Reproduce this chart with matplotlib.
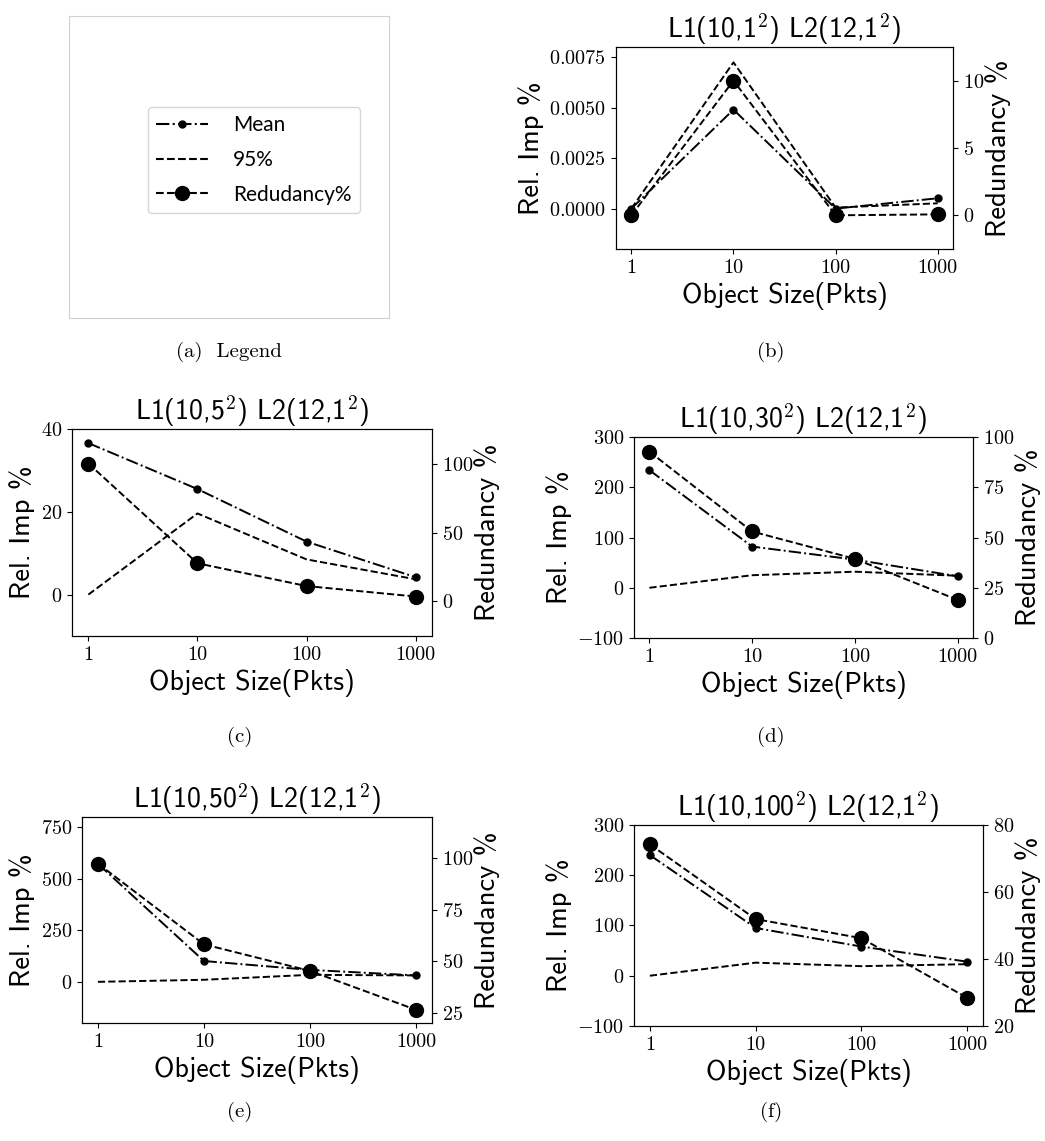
import matplotlib
matplotlib.use('Agg')
import matplotlib.pyplot as plt
from matplotlib.lines import Line2D
from matplotlib.ticker import NullLocator

plt.rcParams['font.family'] = 'cmr10'
plt.rcParams['mathtext.fontset'] = 'cm'
plt.rcParams['axes.formatter.use_mathtext'] = True
plt.rcParams['axes.unicode_minus'] = True

sizes = [1, 10, 100, 1000]
size_labels = ['1', '10', '100', '1000']

titles = [r'L1(10,1$^2$) L2(12,1$^2$)',
          r'L1(10,5$^2$) L2(12,1$^2$)',
          r'L1(10,30$^2$) L2(12,1$^2$)',
          r'L1(10,50$^2$) L2(12,1$^2$)',
          r'L1(10,100$^2$) L2(12,1$^2$)']
captions = ['(b)', '(c)', '(d)', '(e)', '(f)']

# relative improvement, mean
mean_b = [0.0, 0.0049, 0.0, 0.00051]
mean_c = [36.6, 25.5, 12.8, 4.2]
mean_d = [234, 82, 56, 23]
mean_e = [573, 101, 58, 31]
mean_f = [240, 95, 58, 28]

# relative improvement, 95%
p95_b = [0.0, 0.00724, 0.00005, 0.00026]
p95_c = [0.0, 19.6, 8.5, 3.7]
p95_d = [0, 25, 32, 24]
p95_e = [0, 10, 34, 31]
p95_f = [0, 26, 19, 23]

# redundancy %
red_b = [0.0, 10.0, 0.0, 0.07]
red_c = [100, 27.7, 11.2, 3.6]
red_d = [92.7, 53, 39.4, 19]
red_e = [97.4, 58.2, 45.3, 26.4]
red_f = [74.2, 51.9, 46.2, 28.4]

means = [mean_b, mean_c, mean_d, mean_e, mean_f]
p95s = [p95_b, p95_c, p95_d, p95_e, p95_f]
reds = [red_b, red_c, red_d, red_e, red_f]

left_lims = [(-0.002, 0.008), (-10, 40), (-100, 300), (-200, 800), (-100, 300)]
left_ticks = [[0, 0.0025, 0.005, 0.0075], [0, 20, 40], [-100, 0, 100, 200, 300],
              [0, 250, 500, 750], [-100, 0, 100, 200, 300]]
right_lims = [(-2.5, 12.5), (-25, 125), (0, 100), (20, 120), (20, 80)]
right_ticks = [[0, 5, 10], [0, 50, 100], [0, 25, 50, 75, 100],
               [25, 50, 75, 100], [20, 40, 60, 80]]

# axes boxes in figure fraction
boxes = [[0.5895, 0.7818, 0.3225, 0.1770],
         [0.0689, 0.4426, 0.3445, 0.1814],
         [0.6067, 0.4408, 0.3244, 0.1762],
         [0.0785, 0.1034, 0.3349, 0.1805],
         [0.6067, 0.1008, 0.3340, 0.1762]]
caption_pos = [(0.7378, 0.6915), (0.2297, 0.3541), (0.7378, 0.3541),
               (0.2297, 0.0254), (0.7378, 0.0254)]

label_font = dict(family='cmss10', size=20)
ylabel_font = dict(family='cmss10', size=20.5)
tick_size = 14.5

fig = plt.figure(figsize=(10.45, 11.41), dpi=100)

# (a) legend panel
axl = fig.add_axes([0.066, 0.7213, 0.3062, 0.2647])
axl.set_xticks([])
axl.set_yticks([])
for s in axl.spines.values():
    s.set_color('#d0d0d0')
    s.set_linewidth(0.8)
handles = [Line2D([], [], color='k', ls='-.', marker='o', ms=5, lw=1.5),
           Line2D([], [], color='k', ls='--', lw=1.5),
           Line2D([], [], color='k', ls='--', marker='o', ms=10, lw=1.5)]
axl.legend(handles, ['Mean', '95%', 'Redudancy%'], loc='center',
           bbox_to_anchor=(0.578, 0.523), prop=dict(family='Lato', size=15),
           handlelength=2.5, handletextpad=1.2, labelspacing=0.7)
fig.text(0.2191, 0.6915, '(a)  Legend', ha='center', va='center', fontsize=15)

for i in range(5):
    ax = fig.add_axes(boxes[i])
    ax.plot(sizes, means[i], color='k', ls='-.', marker='o', ms=5, lw=1.4)
    ax.plot(sizes, p95s[i], color='k', ls='--', lw=1.4)
    ax.set_xscale('log')
    ax.set_xticks(sizes)
    ax.set_xticklabels(size_labels)
    ax.xaxis.set_minor_locator(NullLocator())
    ax.set_ylim(*left_lims[i])
    ax.set_yticks(left_ticks[i])
    ax.tick_params(labelsize=tick_size)
    ax.set_xlabel('Object Size(Pkts)', **label_font)
    ax.set_ylabel('Rel. Imp %', **ylabel_font)
    ax.set_title(titles[i], pad=6, **label_font)

    ax2 = ax.twinx()
    ax2.plot(sizes, reds[i], color='k', ls='--', marker='o', ms=10, lw=1.4)
    ax2.set_ylim(*right_lims[i])
    ax2.set_yticks(right_ticks[i])
    ax2.tick_params(labelsize=tick_size)
    ax2.set_ylabel('Redundancy %', labelpad=1, **ylabel_font)
    ax2.xaxis.set_minor_locator(NullLocator())

    fig.text(caption_pos[i][0], caption_pos[i][1], captions[i],
             ha='center', va='center', fontsize=15)

fig.savefig('out.png', dpi=100)
